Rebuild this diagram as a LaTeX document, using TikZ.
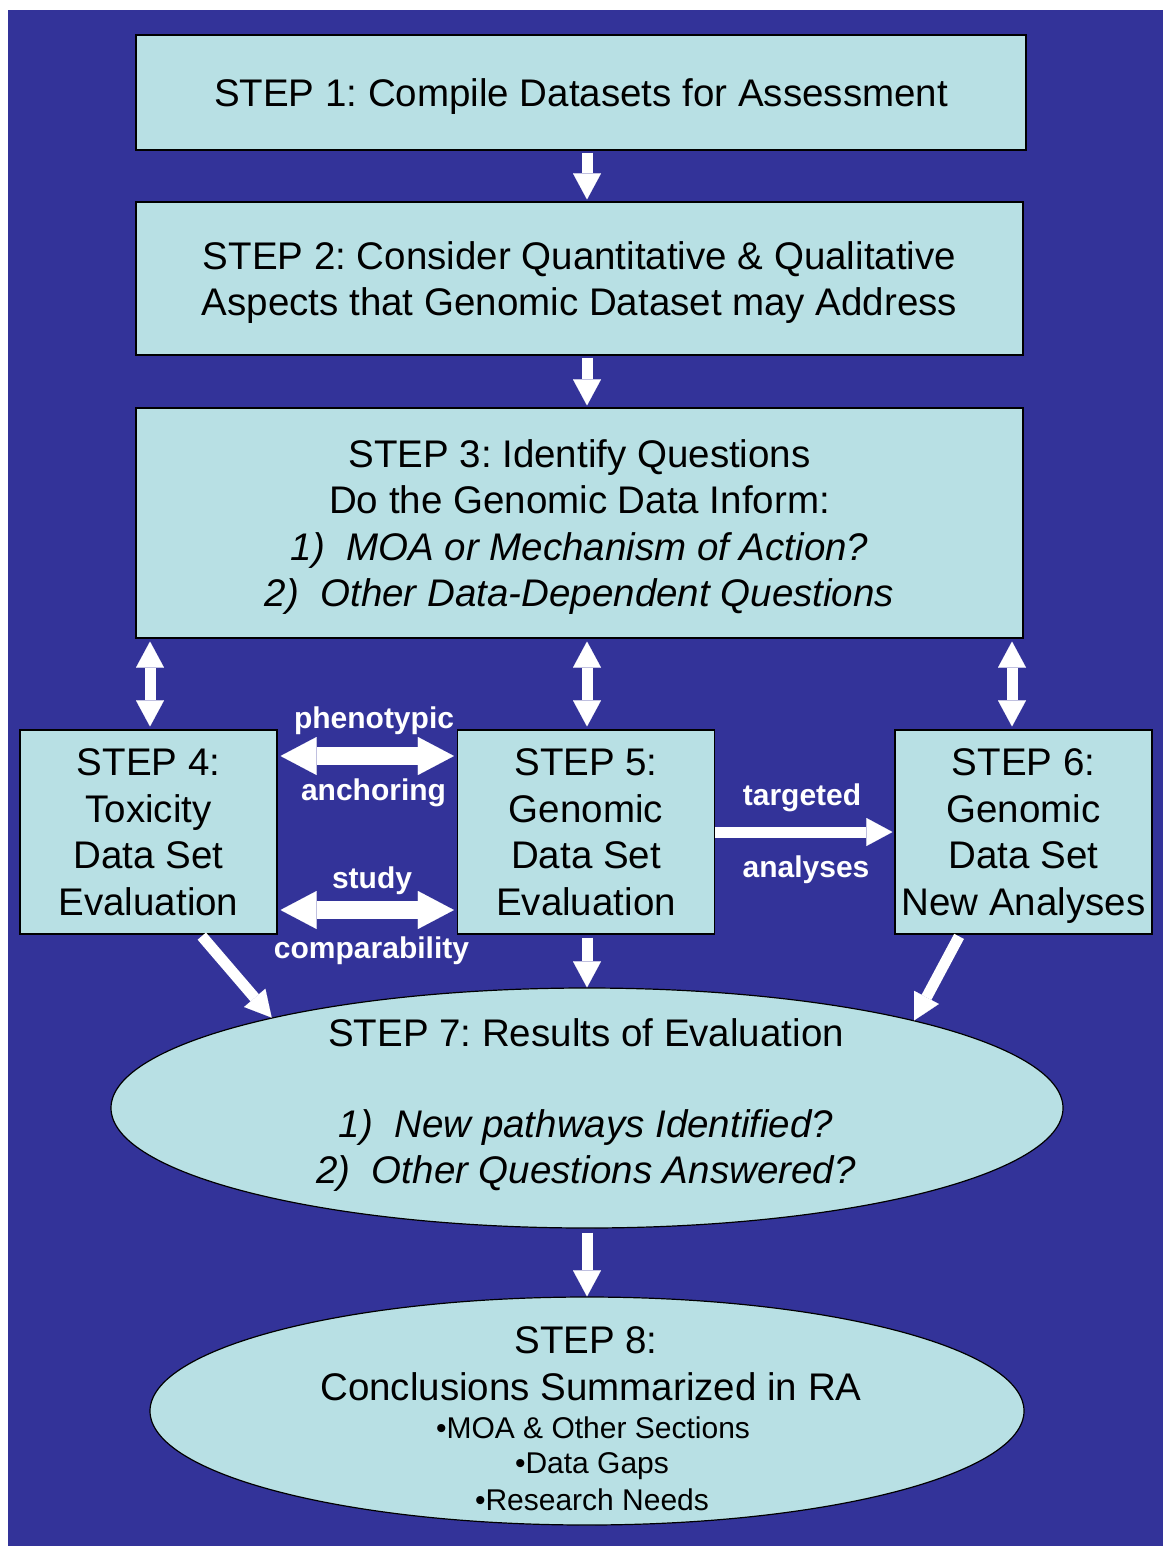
\documentclass[tikz,border=0pt]{standalone}
\usepackage{fontspec}
\setmainfont{Liberation Sans}
\usetikzlibrary{arrows.meta,shapes.geometric}
\definecolor{bg}{RGB}{51,51,153}
\definecolor{boxfill}{RGB}{184,224,228}
\frenchspacing
\begin{document}
\begin{tikzpicture}[x=1pt,y=-1pt,
  stepbox/.style={draw=black, line width=1.2pt, fill=boxfill, inner sep=0pt, text depth=0pt,
    align=center, font=\fontsize{38.5pt}{46.5pt}\selectfont},
  stepell/.style={ellipse, draw=black, line width=1.2pt, fill=boxfill, inner sep=0pt},
  bigtxt/.style={font=\fontsize{38.5pt}{46.5pt}\selectfont, anchor=base, inner sep=0pt},
  smalltxt/.style={font=\fontsize{30pt}{35pt}\selectfont, anchor=base, inner sep=0pt},
  lbl/.style={text=white, font=\bfseries\fontsize{30pt}{34pt}\selectfont, anchor=base, inner sep=0pt},
  arr/.style={draw=white, line width=11pt, -{Triangle[width=28pt,length=26pt,line width=0.01pt]}},
  darr/.style={draw=white, line width=11pt, {Triangle[width=28pt,length=26pt,line width=0.01pt]}-{Triangle[width=28pt,length=26pt,line width=0.01pt]}},
  bigdarr/.style={draw=white, line width=18pt, {Triangle[width=38pt,length=36pt,line width=0.01pt]}-{Triangle[width=38pt,length=36pt,line width=0.01pt]}}
]
\useasboundingbox (0,0) rectangle (1163,1546);
\fill[white] (0,0) rectangle (1163,1546);
\fill[bg] (8,10) rectangle (1163,1546);

% step boxes
\node[stepbox, minimum width=890pt, minimum height=115pt] (b1) at (581,92.5)
  {STEP 1: Compile Datasets for Assessment};
\node[stepbox, minimum width=887pt, minimum height=153pt] (b2) at (579.5,278.5)
  {STEP 2: Consider Quantitative \& Qualitative\\Aspects that Genomic Dataset may Address};
\node[stepbox, minimum width=887pt, minimum height=230pt] (b3) at (579.5,523)
  {STEP 3: Identify Questions\\Do the Genomic Data Inform:\\
   \textit{1)\ \ MOA or Mechanism of Action?}\\
   \textit{2)\ \ Other Data-Dependent Questions}};
\node[stepbox, minimum width=257pt, minimum height=204pt] (b4) at (148.5,832)
  {STEP 4:\\Toxicity\\Data Set\\Evaluation};
\node[stepbox, minimum width=257pt, minimum height=204pt] (b5) at (586,832)
  {STEP 5:\\Genomic\\Data Set\\Evaluation};
\node[stepbox, minimum width=257pt, minimum height=204pt] (b6) at (1023.5,832)
  {STEP 6:\\Genomic\\Data Set\\New Analyses};

% result ellipses
\node[stepell, minimum width=952pt, minimum height=240pt] (e7) at (587,1108) {};
\node[bigtxt] (t7a) at (586,1046) {STEP 7: Results of Evaluation};
\node[bigtxt] (t7b) at (586,1137) {\textit{1)\ \ New pathways Identified?}};
\node[bigtxt] (t7c) at (586,1183) {\textit{2)\ \ Other Questions Answered?}};

\node[stepell, minimum width=874pt, minimum height=228pt] (e8) at (587,1411) {};
\node[bigtxt] (t8a) at (586,1353) {STEP 8:};
\node[bigtxt] (t8b) at (591,1400) {Conclusions Summarized in RA};
\node[smalltxt] (t8c) at (593,1438) {•MOA \& Other Sections};
\node[smalltxt] (t8d) at (592,1473) {•Data Gaps};
\node[smalltxt] (t8e) at (592,1510) {•Research Needs};

% connectors
\coordinate (ya) at (0,756);
\coordinate (yb) at (0,910);
\draw[arr, shorten <=2pt, shorten >=2pt] (b1.south -| e7) -- (b2.north -| e7);
\draw[arr, shorten <=2pt, shorten >=2pt] (b2.south -| e7) -- (b3.north -| e7);
\draw[darr, shorten <=3pt, shorten >=3pt] ([xshift=1.5pt]b4.north |- b3.south) -- ([xshift=1.5pt]b4.north);
\draw[darr, shorten <=3pt, shorten >=3pt] (b3.south -| e7) -- (b5.north -| e7);
\draw[darr, shorten <=3pt, shorten >=3pt] ([xshift=-11.5pt]b6.north |- b3.south) -- ([xshift=-11.5pt]b6.north);
\draw[bigdarr, shorten <=3pt, shorten >=3pt] (b4.east |- ya) -- (b5.west |- ya);
\draw[bigdarr, shorten <=3pt, shorten >=3pt] (b4.east |- yb) -- (b5.west |- yb);
\draw[arr, shorten >=2pt] (b5.east) -- (b6.west);
\draw[arr, shorten <=2pt] ([xshift=52pt]b4.south) -- (e7.164.5);
\draw[arr, shorten <=3pt] (b5.south -| e7) -- (e7.north);
\draw[arr, shorten <=2pt] ([xshift=-63.5pt]b6.south) -- (e7.15.5);
\draw[arr, shorten <=4pt] (e7.south) -- (e8.north);

% connector labels
\node[lbl] (l1) at (374,728) {phenotypic};
\node[lbl] (l2) at (373.5,800) {anchoring};
\node[lbl] (l3) at (372,888) {study};
\node[lbl] (l4) at (371.5,958) {comparability};
\node[lbl] (l5) at (802,805) {targeted};
\node[lbl] (l6) at (806,877) {analyses};
\end{tikzpicture}
\end{document}
